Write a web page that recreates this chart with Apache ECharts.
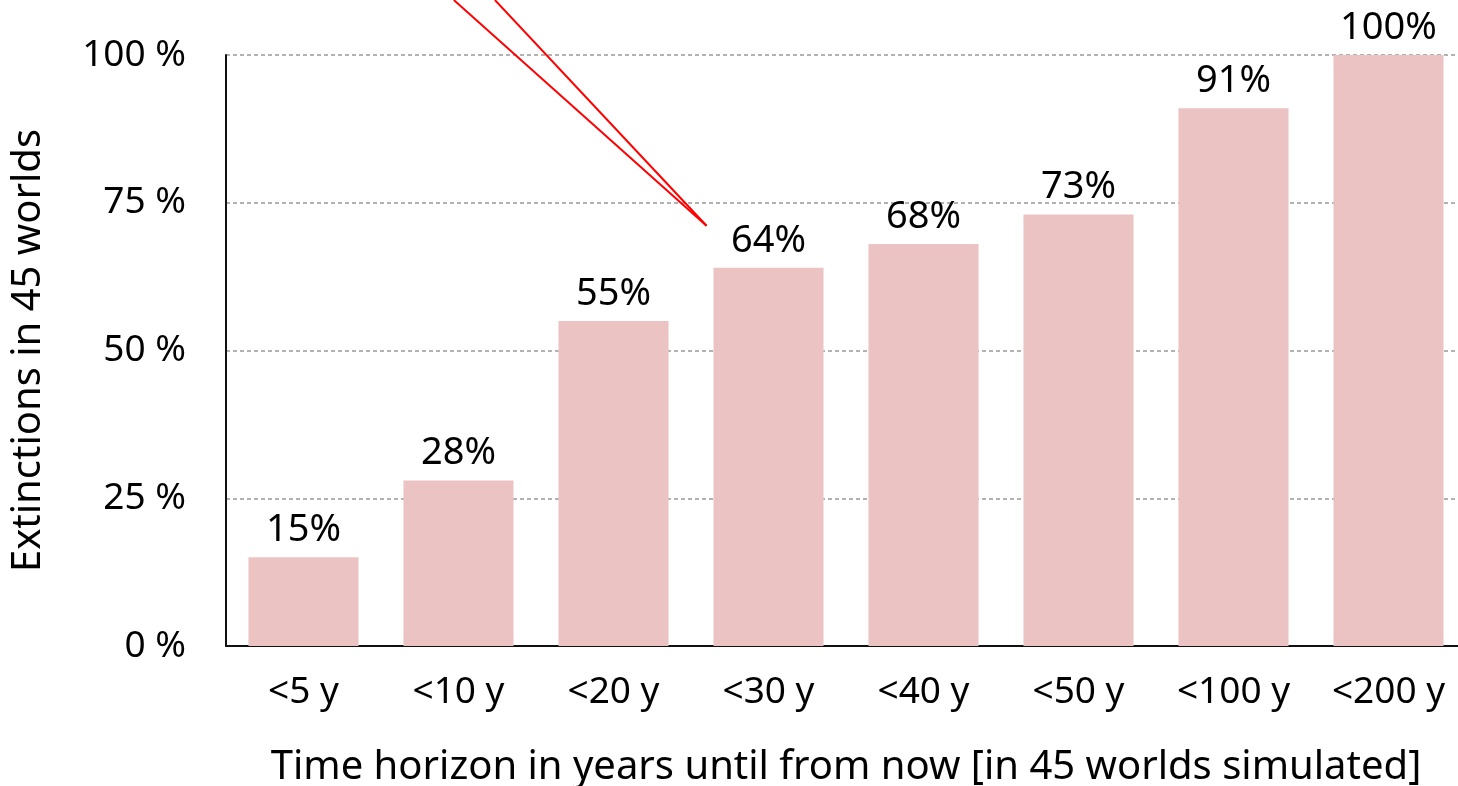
<!DOCTYPE html>
<html><head><meta charset="utf-8">
<script src="https://cdn.jsdelivr.net/npm/echarts@6/dist/echarts.min.js"></script>
<style>html,body{margin:0;padding:0;background:#fff}#c{width:1458px;height:786px}</style>
</head><body><div id="c"></div>
<script>
const categories = ['<5 y','<10 y','<20 y','<30 y','<40 y','<50 y','<100 y','<200 y'];
const values = [15, 28, 55, 64, 68, 73, 91, 100];
const yTicks = [0, 25, 50, 75, 100];
// annotation lines, in [band position, percent] units
const annotation1 = [[1.47, 109.3], [3.10, 71.1]];
const annotation2 = [[1.735, 109.3], [3.10, 71.1]];

const FONT = 'Noto Sans';
const chart = echarts.init(document.getElementById('c'));
chart.setOption({
  animation: false,
  textStyle: { fontFamily: FONT },
  grid: { left: 226, width: 1240, top: 55, bottom: 140, outerBoundsMode: 'none', containLabel: false },
  xAxis: [{
    type: 'category', data: categories,
    axisLine: { lineStyle: { color: '#111', width: 2 } },
    axisTick: { show: false },
    axisLabel: { fontSize: 37, color: '#000', margin: 28, fontFamily: FONT },
    name: 'Time horizon in years until from now [in 45 worlds simulated]',
    nameLocation: 'middle', nameGap: 102,
    nameTextStyle: { fontSize: 40, color: '#000', fontFamily: FONT }
  }, {
    type: 'value', min: 0, max: categories.length, show: false
  }],
  yAxis: {
    type: 'value', min: yTicks[0], max: yTicks[yTicks.length - 1], interval: 25,
    axisLine: { show: true, lineStyle: { color: '#111', width: 2 } },
    axisTick: { show: false },
    splitLine: { lineStyle: { color: '#999', type: [4, 3], width: 1.5 } },
    axisLabel: { fontSize: 37, color: '#000', margin: 40, formatter: v => v + ' %', fontFamily: FONT },
    name: 'Extinctions in 45 worlds', nameLocation: 'middle', nameGap: 177,
    nameTextStyle: { fontSize: 40, color: '#000', fontFamily: FONT }
  },
  series: [{
    type: 'bar', data: values, barCategoryGap: '29%',
    itemStyle: { color: '#EBC3C3' },
    label: { show: true, position: 'top', distance: 8, fontSize: 38, color: '#000',
      formatter: p => p.value + '%', fontFamily: FONT }
  }, {
    type: 'line', xAxisIndex: 1, data: annotation1, symbol: 'none', clip: false,
    lineStyle: { color: '#ff0000', width: 2 }, silent: true
  }, {
    type: 'line', xAxisIndex: 1, data: annotation2, symbol: 'none', clip: false,
    lineStyle: { color: '#ff0000', width: 2 }, silent: true
  }]
});
</script></body></html>
